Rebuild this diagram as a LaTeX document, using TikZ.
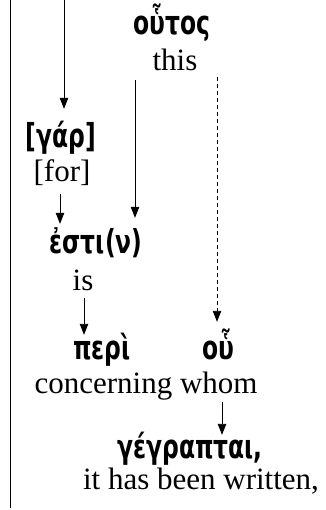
\documentclass[tikz,border=0pt]{standalone}
\usepackage{fontspec}
\setmainfont{Liberation Serif}
\newfontfamily\greekfont[FakeStretch=0.71]{DejaVu Sans}
\usetikzlibrary{arrows.meta}

\tikzset{
  greek/.style={font=\greekfont\bfseries\fontsize{33}{38}\selectfont,
    text height=19pt, text depth=6pt, inner sep=2pt, anchor=base},
  gloss/.style={font=\fontsize{31}{36}\selectfont,
    text height=22pt, text depth=7pt, inner sep=2pt, anchor=base},
  link/.style={-{Triangle[length=11pt,width=8.5pt]}, line width=0.9pt},
}

\begin{document}
\begin{tikzpicture}[x=1pt, y=-1pt]
  \useasboundingbox (0,0) rectangle (325,510);
  % margin rule on the left
  \draw[line width=0.9pt] (10,0) -- (10,508);

  % words and glosses
  \node[greek] (houtos) at (172,35) {οὗτος};
  \node[gloss] (this) at (175,71) {this};
  \node[greek] (gar) at (61,148) {[γάρ]};
  \node[gloss] (for) at (62,182) {[for]};
  \node[greek] (esti) at (96,253) {ἐστι(ν)};
  \node[gloss] (is) at (83,290) {is};
  \node[greek] (peri) at (102,359) {περὶ};
  \node[greek] (hou) at (218,359) {οὗ};
  \node[gloss] (concerning) at (146,393) {concerning whom};
  \node[greek] (gegraptai) at (190,458) {γέγραπται,};
  \node[gloss] (written) at (201,489) {it has been written,};

  % where the lines run
  \coordinate (topin) at (64,0);
  \coordinate (solidx) at (135,0);
  \coordinate (dashx) at (217,0);
  \coordinate (whomx) at (222,0);

  \draw[link, shorten >=18pt] (topin) -- (gar.north -| topin);
  \draw[link, shorten <=3pt, shorten >=8pt] ([xshift=-2pt]for.south) -- ([xshift=-2pt]for.south |- esti.north);
  \draw[link, shorten >=14pt] (this.south -| solidx) -- (esti.north -| solidx);
  \draw[link, dash pattern=on 4pt off 3pt, shorten <=-3pt, shorten >=16pt] (this.south -| dashx) -- (hou.north -| dashx);
  \draw[link, shorten <=-1pt, shorten >=3pt] ([xshift=1pt]is.south) -- ([xshift=1pt]is.south |- peri.north);
  \draw[link, shorten >=2pt] (concerning.south -| whomx) -- (gegraptai.north -| whomx);
\end{tikzpicture}
\end{document}
